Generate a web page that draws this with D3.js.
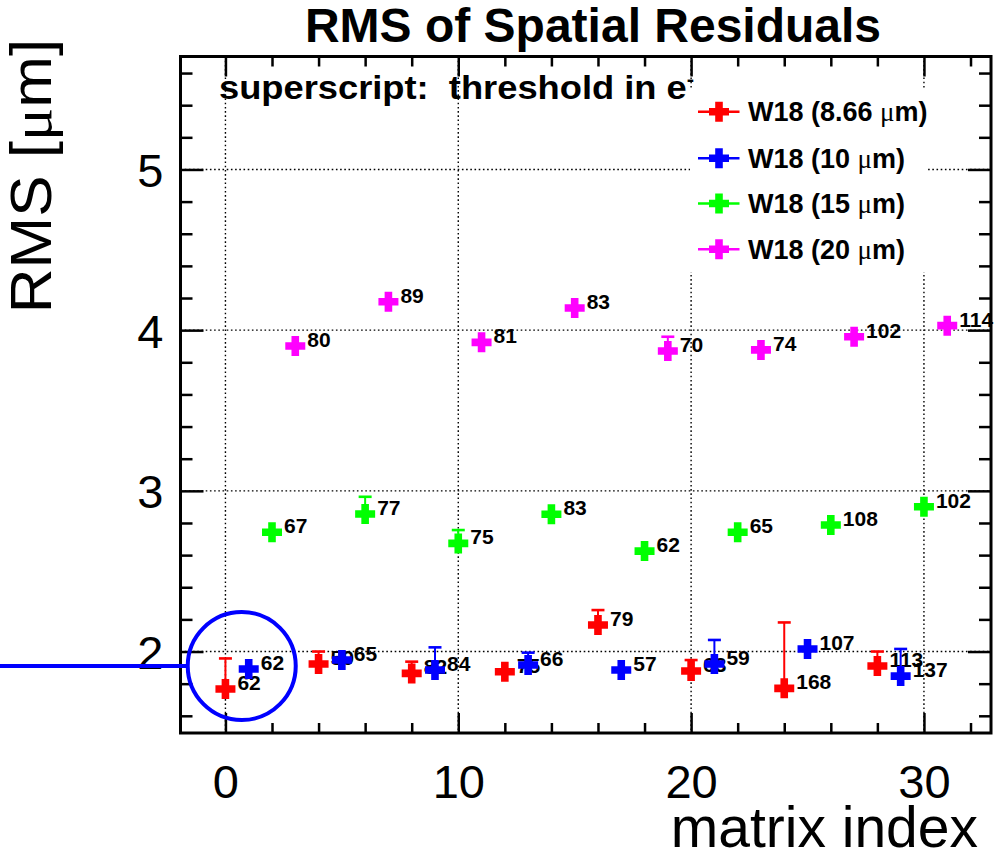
<!DOCTYPE html>
<html>
<head>
<meta charset="utf-8">
<script src="https://cdn.jsdelivr.net/npm/d3@7/dist/d3.min.js"></script>
<style>
  html, body { margin: 0; padding: 0; background: #fff; }
  svg { display: block; }
  text { font-family: "Liberation Sans", Arial, Helvetica, sans-serif; fill: #000; }
</style>
</head>
<body>
<svg id="chart" width="998" height="860"></svg>
<script>
// ---- data ----------------------------------------------------------------
const seriesNames = ["W18 (8.66 ", "W18 (10 ", "W18 (15 ", "W18 (20 "];
const seriesColors = ["#ff0000", "#0000ff", "#00ff00", "#ff00ff"];

const redX   = [0, 4, 8, 12, 16, 20, 24, 28];
const redY   = [1.767, 1.922, 1.864, 1.874, 2.165, 1.879, 1.771, 1.910];
const redErr = [0.190, 0.078, 0.073, 0, 0.093, 0.068, 0.410, 0.090];
const redLab = ["62", "59", "82", "75", "79", "63", "168", "113"];

const blueX   = [1, 5, 9, 13, 17, 21, 25, 29];
const blueY   = [1.891, 1.947, 1.885, 1.916, 1.885, 1.922, 2.016, 1.847];
const blueErr = [0, 0, 0.141, 0.077, 0, 0.150, 0, 0.169];
const blueLab = ["62", "65", "84", "66", "57", "59", "107", "137"];

const greenX   = [2, 6, 10, 14, 18, 22, 26, 30];
const greenY   = [2.742, 2.856, 2.673, 2.854, 2.625, 2.742, 2.787, 2.901];
const greenErr = [0, 0.107, 0.083, 0, 0, 0, 0, 0];
const greenLab = ["67", "77", "75", "83", "62", "65", "108", "102"];

const magX   = [3, 7, 11, 15, 19, 23, 27, 31];
const magY   = [3.901, 4.177, 3.924, 4.138, 3.870, 3.877, 3.959, 4.028];
const magErr = [0, 0, 0, 0, 0.089, 0, 0, 0];
const magLab = ["80", "89", "81", "83", "70", "74", "102", "114"];

const xMajorTicks = [0, 10, 20, 30];
const yMajorTicks = [2, 3, 4, 5];
const xDomain = [-1.93, 32.88];
const yDomain = [1.493, 5.703];

// highlighted region (data coordinates)
const ringCenter = [0.7, 1.91];

// ---- layout --------------------------------------------------------------
const frame = { left: 180.5, right: 991, top: 56.5, bottom: 733 };
const svg = d3.select("#chart");
const x = d3.scaleLinear().domain(xDomain).range([frame.left, frame.right]);
const y = d3.scaleLinear().domain(yDomain).range([frame.bottom, frame.top]);

const xMinorTicks = d3.range(0, 33, 2).filter(v => !xMajorTicks.includes(v));
const yMinorTicks = d3.range(16, 57, 2).map(v => v / 10).filter(v => !yMajorTicks.includes(v) && v > yDomain[0] && v < yDomain[1]);

// grid
const grid = svg.append("g").attr("stroke", "#000").attr("stroke-width", 1.4)
  .attr("stroke-dasharray", "1.6,2.6");
grid.selectAll("line.gx").data(xMajorTicks).join("line")
  .attr("x1", d => x(d)).attr("x2", d => x(d))
  .attr("y1", frame.top).attr("y2", frame.bottom);
grid.selectAll("line.gy").data(yMajorTicks).join("line")
  .attr("x1", frame.left).attr("x2", frame.right)
  .attr("y1", d => y(d)).attr("y2", d => y(d));

// ticks on all four sides, drawn inward
function tickAxis(axisFn, scale, values, size, transform) {
  const g = svg.append("g").attr("transform", transform)
    .call(axisFn(scale).tickValues(values).tickSize(-size).tickFormat(""));
  g.select(".domain").remove();
  g.selectAll(".tick line").attr("stroke", "#000").attr("stroke-width", 2.5);
  return g;
}
tickAxis(d3.axisBottom, x, xMinorTicks, 10, `translate(0,${frame.bottom})`);
tickAxis(d3.axisBottom, x, xMajorTicks, 20, `translate(0,${frame.bottom})`);
tickAxis(d3.axisTop, x, xMinorTicks, 10, `translate(0,${frame.top})`);
tickAxis(d3.axisTop, x, xMajorTicks, 20, `translate(0,${frame.top})`);
tickAxis(d3.axisLeft, y, yMinorTicks, 12, `translate(${frame.left},0)`);
tickAxis(d3.axisLeft, y, yMajorTicks, 23, `translate(${frame.left},0)`);
tickAxis(d3.axisRight, y, yMinorTicks, 12, `translate(${frame.right},0)`);
tickAxis(d3.axisRight, y, yMajorTicks, 23, `translate(${frame.right},0)`);

// tick labels
const xLab = svg.append("g").attr("transform", `translate(0,${frame.bottom})`)
  .call(d3.axisBottom(x).tickValues(xMajorTicks).tickSize(0).tickPadding(32).tickFormat(d3.format("d")));
xLab.select(".domain").remove();
xLab.selectAll("text").attr("font-size", 47).attr("font-family", null);

const yLab = svg.append("g").attr("transform", `translate(${frame.left},0)`)
  .call(d3.axisLeft(y).tickValues(yMajorTicks).tickSize(0).tickPadding(17).tickFormat(d3.format("d")));
yLab.select(".domain").remove();
yLab.selectAll("text").attr("font-size", 47).attr("font-family", null).attr("dy", "0.36em");

// frame
svg.append("rect")
  .attr("x", frame.left).attr("y", frame.top)
  .attr("width", frame.right - frame.left).attr("height", frame.bottom - frame.top)
  .attr("fill", "none").attr("stroke", "#000").attr("stroke-width", 3);

// ---- marks ---------------------------------------------------------------
const MS = 10, ARM = 3.8;   // half size and half arm width of the cross marker
function crossPath(cx, cy) {
  return `M${cx - ARM},${cy - MS}H${cx + ARM}V${cy - ARM}H${cx + MS}V${cy + ARM}H${cx + ARM}` +
         `V${cy + MS}H${cx - ARM}V${cy + ARM}H${cx - MS}V${cy - ARM}H${cx - ARM}Z`;
}

const allSeries = [
  { xs: redX, ys: redY, err: redErr, lab: redLab },
  { xs: blueX, ys: blueY, err: blueErr, lab: blueLab },
  { xs: greenX, ys: greenY, err: greenErr, lab: greenLab },
  { xs: magX, ys: magY, err: magErr, lab: magLab }
];

allSeries.forEach((s, si) => {
  const color = seriesColors[si];
  const pts = s.xs.map((v, i) => ({ x: v, y: s.ys[i], e: s.err[i], l: s.lab[i] }));
  const g = svg.append("g");
  const withErr = pts.filter(p => p.e > 0);
  g.selectAll("line.err").data(withErr).join("line")
    .attr("x1", p => x(p.x)).attr("x2", p => x(p.x))
    .attr("y1", p => y(p.y)).attr("y2", p => y(p.y + p.e))
    .attr("stroke", color).attr("stroke-width", 2);
  g.selectAll("line.cap").data(withErr).join("line")
    .attr("x1", p => x(p.x) - 6.5).attr("x2", p => x(p.x) + 6.5)
    .attr("y1", p => y(p.y + p.e)).attr("y2", p => y(p.y + p.e))
    .attr("stroke", color).attr("stroke-width", 2.6);
  g.selectAll("path").data(pts).join("path")
    .attr("d", p => crossPath(x(p.x), y(p.y)))
    .attr("fill", color);
  g.selectAll("text").data(pts).join("text")
    .attr("x", p => x(p.x) + 12).attr("y", p => y(p.y) + 1)
    .attr("font-size", 21).attr("font-weight", "bold")
    .text(p => p.l);
});

// ---- legend --------------------------------------------------------------
svg.append("rect").attr("x", 690).attr("y", 88).attr("width", 237).attr("height", 184)
  .attr("fill", "#fff");
const legendY = [111.7, 158.3, 203.5, 249.3];
seriesNames.forEach((name, i) => {
  const cy = legendY[i], cx = 719;
  const g = svg.append("g");
  g.append("line").attr("x1", 698).attr("x2", 739.5).attr("y1", cy).attr("y2", cy)
    .attr("stroke", seriesColors[i]).attr("stroke-width", 2.4);
  g.append("path").attr("d", crossPath(cx, cy)).attr("fill", seriesColors[i]);
  const t = g.append("text").attr("x", 748).attr("y", cy + 9.5)
    .attr("font-size", 27).attr("font-weight", "bold");
  t.append("tspan").text(name);
  t.append("tspan").attr("font-family", "'Liberation Serif', 'DejaVu Serif', serif").attr("font-weight", "normal").text("μ");
  t.append("tspan").text("m)");
});

// note inside the frame
const note = svg.append("text").attr("transform", "translate(219,99) scale(1.1,1)")
  .attr("font-size", 33).attr("font-weight", "bold").attr("xml:space", "preserve");
note.append("tspan").text("superscript:  threshold in e");
note.append("tspan").attr("dy", -13).attr("font-size", 20).text("-");

// ---- titles --------------------------------------------------------------
svg.append("text").attr("x", 593).attr("y", 42).attr("text-anchor", "middle")
  .attr("font-size", 48).attr("font-weight", "bold").text("RMS of Spatial Residuals");

svg.append("text").attr("x", 978).attr("y", 847).attr("text-anchor", "end")
  .attr("font-size", 57).text("matrix index");

const yt = svg.append("text").attr("transform", "translate(51,176) rotate(-90) scale(1.07,1)")
  .attr("text-anchor", "middle").attr("font-size", 58);
yt.append("tspan").text("RMS [");
yt.append("tspan").attr("font-family", "'Liberation Serif', 'DejaVu Serif', serif").text("μ");
yt.append("tspan").text("m]");

// ---- highlight ring ------------------------------------------------------
const rc = [x(ringCenter[0]), y(ringCenter[1])];
svg.append("circle").attr("cx", rc[0]).attr("cy", rc[1]).attr("r", 54)
  .attr("fill", "none").attr("stroke", "#0000ff").attr("stroke-width", 4);
svg.append("line").attr("x1", 0).attr("x2", rc[0] - 54).attr("y1", rc[1]).attr("y2", rc[1])
  .attr("stroke", "#0000ff").attr("stroke-width", 4);
</script>
</body>
</html>
